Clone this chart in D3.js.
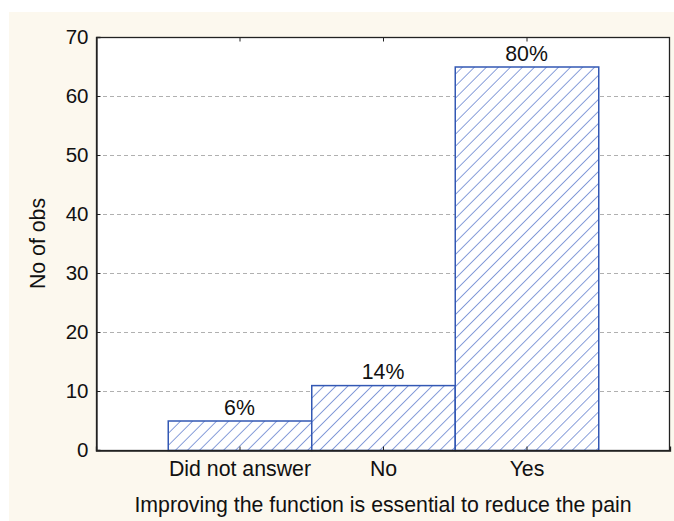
<!DOCTYPE html>
<html><head><meta charset="utf-8">
<script src="https://cdn.jsdelivr.net/npm/d3@7"></script>
<style>body{margin:0;background:#fff}svg{display:block}</style>
</head><body>
<script>
const categories = ["Did not answer", "No", "Yes"];
const counts = [5, 11, 65];
const percentLabels = ["6%", "14%", "80%"];
const yTicks = [0, 10, 20, 30, 40, 50, 60, 70];
const xTitle = "Improving the function is essential to reduce the pain";
const yTitle = "No of obs";

const W = 674, H = 521;
const m = {left: 96, right: 4, top: 37, bottom: 71};
const font = "Liberation Sans, Arial, sans-serif";
const FS = 21.3;
const FSY = 20.5;
const svg = d3.select("body").append("svg").attr("width", W).attr("height", H);
svg.append("rect").attr("x", 9).attr("y", 12).attr("width", W - 9).attr("height", H - 12).attr("fill", "#FCF8EE");

const defs = svg.append("defs");
const pat = defs.append("pattern").attr("id", "hatch").attr("patternUnits", "userSpaceOnUse")
  .attr("width", 8.5).attr("height", 8.5).attr("patternTransform", "rotate(45)");
pat.append("rect").attr("width", 8.5).attr("height", 8.5).attr("fill", "#fff");
pat.append("line").attr("x1", 0).attr("y1", 0).attr("x2", 0).attr("y2", 8.5)
  .attr("stroke", "#4a6cc6").attr("stroke-width", 1.3);

const x0 = m.left, x1 = W - m.right, y0 = H - m.bottom, y1 = m.top;
const x = d3.scaleLinear().domain([0, categories.length + 1]).range([x0, x1]);
const y = d3.scaleLinear().domain([0, 70]).range([y0, y1]);

svg.append("rect").attr("x", x0).attr("y", y1).attr("width", x1 - x0).attr("height", y0 - y1).attr("fill", "#fff");

// grid
svg.append("g").selectAll("line").data(yTicks.filter(t => t > 0 && t < 70)).join("line")
  .attr("x1", x0).attr("x2", x1).attr("y1", d => y(d) + 0.5).attr("y2", d => y(d) + 0.5)
  .attr("stroke", "#b0b0b0").attr("stroke-dasharray", "4,3").attr("stroke-width", 1);

// bars
svg.append("g").selectAll("rect").data(counts).join("rect")
  .attr("x", (d, i) => x(i + 0.5) + 0.5).attr("width", (d, i) => x(i + 1.5) - x(i + 0.5))
  .attr("y", d => y(d) + 0.5).attr("height", d => y0 - y(d))
  .attr("fill", "url(#hatch)").attr("stroke", "#3358b4").attr("stroke-width", 1.5);

// percent labels
svg.append("g").selectAll("text").data(counts).join("text")
  .attr("x", (d, i) => x(i + 1)).attr("y", d => y(d) - 6)
  .attr("text-anchor", "middle").attr("font-family", font)
  .attr("font-size", FS).attr("fill", "#111").text((d, i) => percentLabels[i]);

// axes
const yAxisL = d3.axisLeft(y).tickValues(yTicks).tickSize(-4).tickPadding(8);
const gL = svg.append("g").attr("transform", `translate(${x0 + 0.5},0)`).call(yAxisL);
const yAxisR = d3.axisRight(y).tickValues(yTicks).tickSize(-4).tickFormat("");
const gR = svg.append("g").attr("transform", `translate(${x1 - 0.5},0)`).call(yAxisR);
const xAxisB = d3.axisBottom(x).tickValues(d3.range(1, categories.length + 1)).tickSize(-4).tickPadding(10)
  .tickFormat(d => categories[d - 1]);
const gB = svg.append("g").attr("transform", `translate(0,${y0 + 0.5})`).call(xAxisB);
const xAxisT = d3.axisTop(x).tickValues(d3.range(1, categories.length + 1)).tickSize(-4).tickFormat("");
const gT = svg.append("g").attr("transform", `translate(0,${y1 + 0.5})`).call(xAxisT);
[gL, gR, gB, gT].forEach(g => {
  g.selectAll(".domain").attr("stroke", "#222").attr("stroke-width", 1.3);
  g.selectAll(".tick line").attr("stroke", "#222");
  g.selectAll("text").attr("font-family", font).attr("font-size", FS).attr("fill", "#111");
});
gL.selectAll("text").attr("font-size", FSY);
gR.selectAll(".domain").remove();
gT.selectAll(".domain").remove();
svg.append("rect").attr("x", x0 + 0.5).attr("y", y1 + 0.5).attr("width", x1 - x0 - 1).attr("height", y0 - y1)
  .attr("fill", "none").attr("stroke", "#222").attr("stroke-width", 1.3);

svg.append("text").attr("x", (x0 + x1) / 2).attr("y", 512).attr("text-anchor", "middle")
  .attr("font-family", font).attr("font-size", FS).attr("fill", "#111").text(xTitle);
svg.append("text").attr("transform", `translate(45,${(y0 + y1) / 2}) rotate(-90)`).attr("text-anchor", "middle")
  .attr("font-family", font).attr("font-size", FS).attr("fill", "#111").text(yTitle);
</script>
</body></html>
